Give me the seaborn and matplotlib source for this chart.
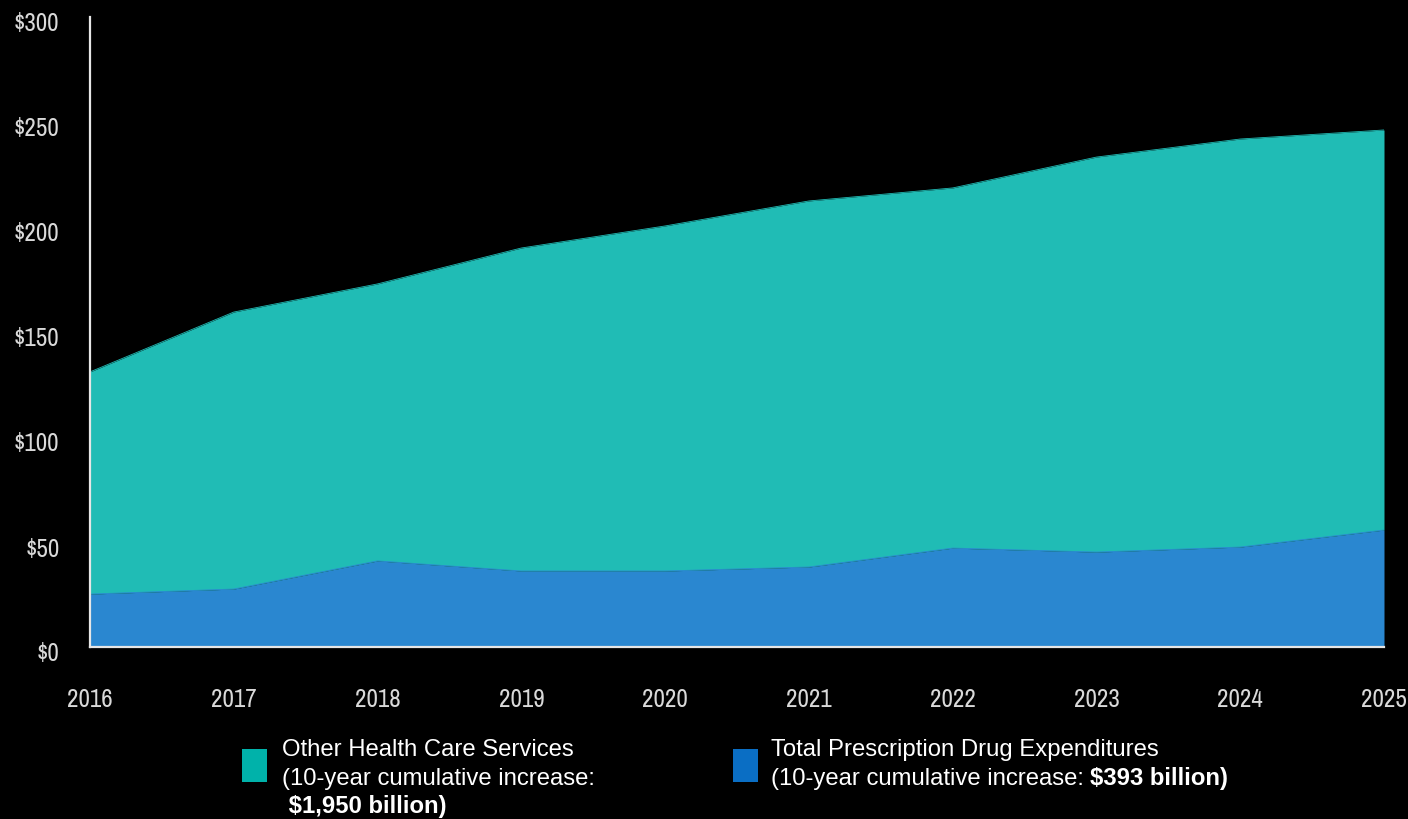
import numpy as np
import pandas as pd
import seaborn as sns
import matplotlib
matplotlib.use("Agg")
import matplotlib.pyplot as plt
from matplotlib import font_manager as fm
from matplotlib.patches import Rectangle
import matplotlib.transforms as mtransforms

years = [2016, 2017, 2018, 2019, 2020, 2021, 2022, 2023, 2024, 2025]
drug_spend = [25.2, 27.6, 41.0, 36.2, 36.2, 38.1, 47.1, 45.2, 47.6, 55.7]
other_spend = [105.8, 131.9, 131.9, 153.8, 164.3, 174.3, 171.5, 188.1, 194.3, 190.5]
y_ticks = [0, 50, 100, 150, 200, 250, 300]
y_labels = ["$0", "$50", "$100", "$150", "$200", "$250", "$300"]
legend_other = ["Other Health Care Services", "(10-year cumulative increase:", " $1,950 billion)"]
legend_drug = ["Total Prescription Drug Expenditures", "(10-year cumulative increase: ", "$393 billion)"]

teal = "#20BCB5"
blue = "#2A87D0"
teal_patch = "#00B2AA"
blue_patch = "#0A6EC4"

sns.set_theme(style="dark")

# find a narrow/condensed face for the tick labels
narrow_family, narrow_stretch = "DejaVu Sans", "normal"
cands = []
for f in fm.fontManager.ttflist:
    nm = f.name
    st = str(f.stretch)
    if "Narrow" in nm or "Condensed" in nm:
        cands.append((0, nm, "normal"))
    elif st in ("condensed", "semi-condensed", "extra-condensed", "ultra-condensed") or \
            (isinstance(f.stretch, int) and f.stretch < 500):
        cands.append((1, nm, st))
cands.sort()
if cands:
    _, narrow_family, narrow_stretch = cands[0]
is_very_narrow = "Narrow" in narrow_family or "Condensed" in narrow_family
tick_fs_x = 18 if is_very_narrow else 15.5
tick_fs_y = 18 if is_very_narrow else 15

plt.rcParams["font.family"] = ["Liberation Sans", "DejaVu Sans"]

df = pd.DataFrame({"year": years, "drug": drug_spend, "other": other_spend})
df["total"] = df["drug"] + df["other"]

fig = plt.figure(figsize=(14.08, 8.2), dpi=100, facecolor="black")
ax = fig.add_axes([90/1408, 1-648/820, (1384-90)/1408, (648-18)/820])
ax.set_facecolor("black")

ax.stackplot(df["year"], df["drug"], df["other"], colors=[blue, teal], linewidth=0)
sns.lineplot(data=df, x="year", y="total", ax=ax, color=teal, linewidth=0.6)
sns.lineplot(data=df, x="year", y="drug", ax=ax, color=blue, linewidth=0.6)

ax.set_xlim(2016, 2025)
ax.set_ylim(0, 300)
ax.set_xlabel("")
ax.set_ylabel("")
ax.grid(False)
ax.set_xticks(years)
ax.set_xticklabels([str(y) for y in years], fontsize=tick_fs_x, color="#D9D9D9",
                   family=[narrow_family, "DejaVu Sans"], fontstretch=narrow_stretch)
ax.set_yticks(y_ticks)
ax.set_yticklabels(y_labels, fontsize=tick_fs_y, color="#D9D9D9",
                   family=[narrow_family, "DejaVu Sans"], fontstretch=narrow_stretch)
ax.tick_params(axis="x", length=0, pad=29)
ax.tick_params(axis="y", length=0, pad=22)
off = mtransforms.ScaledTranslation(0, -4/100, fig.dpi_scale_trans)
for lab in ax.get_yticklabels():
    lab.set_transform(lab.get_transform() + off)
for side in ["top", "right"]:
    ax.spines[side].set_visible(False)
for side in ["left", "bottom"]:
    ax.spines[side].set_visible(True)
    ax.spines[side].set_color("#E6E6E6")
    ax.spines[side].set_linewidth(1.6)

W, H = 1408, 820
def fx(px):
    return px / W
def fy(py):
    return 1 - py / H

# legend patches
fig.patches.append(Rectangle((fx(242), fy(783)), 25/W, 33/H, transform=fig.transFigure,
                             facecolor=teal_patch, edgecolor="none"))
fig.patches.append(Rectangle((fx(733), fy(783)), 25/W, 33/H, transform=fig.transFigure,
                             facecolor=blue_patch, edgecolor="none"))

fs = 17.2
fig.text(fx(282), fy(750), legend_other[0], color="white", fontsize=fs, va="center")
fig.text(fx(282), fy(779), legend_other[1], color="white", fontsize=fs, va="center")
fig.text(fx(282), fy(807), legend_other[2], color="white", fontsize=fs, va="center", fontweight="bold")

fig.text(fx(771), fy(750), legend_drug[0], color="white", fontsize=fs, va="center")
t2 = fig.text(fx(771), fy(779), legend_drug[1], color="white", fontsize=fs, va="center")
fig.canvas.draw()
bb = t2.get_window_extent(renderer=fig.canvas.get_renderer())
fig.text(bb.x1 / fig.bbox.width, fy(779), legend_drug[2], color="white", fontsize=fs,
         va="center", fontweight="bold")

fig.savefig("out.png", dpi=100, facecolor="black")
